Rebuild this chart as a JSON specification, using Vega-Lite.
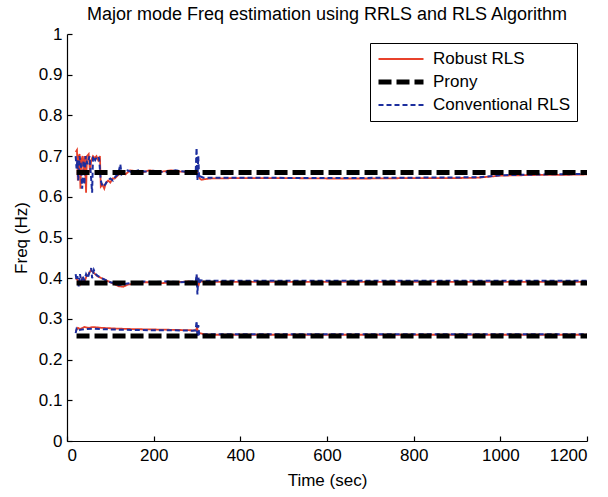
{
  "$schema": "https://vega.github.io/schema/vega-lite/v6.json",
  "autosize": "none",
  "width": 520,
  "height": 407,
  "padding": {"left": 67, "top": 34, "right": 21, "bottom": 56},
  "background": "white",
  "config": {
    "font": "Liberation Sans",
    "view": {"stroke": null},
    "axis": {"grid": false, "domainColor": "#000", "tickColor": "#000", "labelColor": "#000", "titleColor": "#000", "labelFont": "Liberation Sans", "titleFont": "Liberation Sans", "labelFontSize": 17, "titleFontSize": 17, "titleFontWeight": "normal", "tickSize": -5, "domainWidth": 1.2, "tickWidth": 1.2}
  },
  "title": {"text": "Major mode Freq estimation using  RRLS and RLS Algorithm", "fontSize": 18, "fontWeight": "normal", "font": "Liberation Sans", "color": "#000", "anchor": "middle", "frame": "group", "offset": 1},
  "datasets": {
    "d": [
      {"s":"Robust RLS","m":1,"t":20,"f":0.71},{"s":"Robust RLS","m":1,"t":23,"f":0.715},{"s":"Robust RLS","m":1,"t":25,"f":0.64},{"s":"Robust RLS","m":1,"t":27,"f":0.70},{"s":"Robust RLS","m":1,"t":29,"f":0.705},{"s":"Robust RLS","m":1,"t":31,"f":0.62},{"s":"Robust RLS","m":1,"t":33,"f":0.69},{"s":"Robust RLS","m":1,"t":36,"f":0.70},{"s":"Robust RLS","m":1,"t":38,"f":0.66},{"s":"Robust RLS","m":1,"t":41,"f":0.70},{"s":"Robust RLS","m":1,"t":44,"f":0.61},{"s":"Robust RLS","m":1,"t":46,"f":0.70},{"s":"Robust RLS","m":1,"t":50,"f":0.705},{"s":"Robust RLS","m":1,"t":53,"f":0.66},{"s":"Robust RLS","m":1,"t":56,"f":0.69},{"s":"Robust RLS","m":1,"t":60,"f":0.70},{"s":"Robust RLS","m":1,"t":64,"f":0.695},{"s":"Robust RLS","m":1,"t":68,"f":0.70},{"s":"Robust RLS","m":1,"t":72,"f":0.69},{"s":"Robust RLS","m":1,"t":76,"f":0.70},{"s":"Robust RLS","m":1,"t":78,"f":0.625},{"s":"Robust RLS","m":1,"t":82,"f":0.63},{"s":"Robust RLS","m":1,"t":86,"f":0.62},{"s":"Robust RLS","m":1,"t":90,"f":0.635},{"s":"Robust RLS","m":1,"t":95,"f":0.64},{"s":"Robust RLS","m":1,"t":100,"f":0.635},{"s":"Robust RLS","m":1,"t":105,"f":0.645},{"s":"Robust RLS","m":1,"t":110,"f":0.645},{"s":"Robust RLS","m":1,"t":115,"f":0.65},{"s":"Robust RLS","m":1,"t":120,"f":0.655},{"s":"Robust RLS","m":1,"t":128,"f":0.66},{"s":"Robust RLS","m":1,"t":135,"f":0.655},{"s":"Robust RLS","m":1,"t":145,"f":0.665},{"s":"Robust RLS","m":1,"t":160,"f":0.663},{"s":"Robust RLS","m":1,"t":175,"f":0.66},{"s":"Robust RLS","m":1,"t":190,"f":0.665},{"s":"Robust RLS","m":1,"t":205,"f":0.663},{"s":"Robust RLS","m":1,"t":220,"f":0.662},{"s":"Robust RLS","m":1,"t":240,"f":0.665},{"s":"Robust RLS","m":1,"t":260,"f":0.662},{"s":"Robust RLS","m":1,"t":280,"f":0.661},{"s":"Robust RLS","m":1,"t":296,"f":0.66},{"s":"Robust RLS","m":1,"t":300,"f":0.665},{"s":"Robust RLS","m":1,"t":303,"f":0.655},{"s":"Robust RLS","m":1,"t":306,"f":0.645},{"s":"Robust RLS","m":1,"t":310,"f":0.642},{"s":"Robust RLS","m":1,"t":330,"f":0.645},{"s":"Robust RLS","m":1,"t":400,"f":0.646},{"s":"Robust RLS","m":1,"t":500,"f":0.646},{"s":"Robust RLS","m":1,"t":600,"f":0.645},{"s":"Robust RLS","m":1,"t":700,"f":0.645},{"s":"Robust RLS","m":1,"t":800,"f":0.646},{"s":"Robust RLS","m":1,"t":900,"f":0.646},{"s":"Robust RLS","m":1,"t":950,"f":0.647},{"s":"Robust RLS","m":1,"t":980,"f":0.65},{"s":"Robust RLS","m":1,"t":1000,"f":0.652},{"s":"Robust RLS","m":1,"t":1050,"f":0.653},{"s":"Robust RLS","m":1,"t":1100,"f":0.654},{"s":"Robust RLS","m":1,"t":1150,"f":0.654},{"s":"Robust RLS","m":1,"t":1200,"f":0.655},

      {"s":"Robust RLS","m":2,"t":20,"f":0.40},{"s":"Robust RLS","m":2,"t":25,"f":0.395},{"s":"Robust RLS","m":2,"t":30,"f":0.385},{"s":"Robust RLS","m":2,"t":35,"f":0.40},{"s":"Robust RLS","m":2,"t":40,"f":0.39},{"s":"Robust RLS","m":2,"t":45,"f":0.405},{"s":"Robust RLS","m":2,"t":50,"f":0.41},{"s":"Robust RLS","m":2,"t":55,"f":0.42},{"s":"Robust RLS","m":2,"t":60,"f":0.415},{"s":"Robust RLS","m":2,"t":65,"f":0.41},{"s":"Robust RLS","m":2,"t":70,"f":0.405},{"s":"Robust RLS","m":2,"t":80,"f":0.40},{"s":"Robust RLS","m":2,"t":90,"f":0.395},{"s":"Robust RLS","m":2,"t":100,"f":0.39},{"s":"Robust RLS","m":2,"t":110,"f":0.385},{"s":"Robust RLS","m":2,"t":120,"f":0.38},{"s":"Robust RLS","m":2,"t":130,"f":0.379},{"s":"Robust RLS","m":2,"t":140,"f":0.384},{"s":"Robust RLS","m":2,"t":160,"f":0.388},{"s":"Robust RLS","m":2,"t":180,"f":0.39},{"s":"Robust RLS","m":2,"t":200,"f":0.39},{"s":"Robust RLS","m":2,"t":220,"f":0.388},{"s":"Robust RLS","m":2,"t":250,"f":0.39},{"s":"Robust RLS","m":2,"t":280,"f":0.392},{"s":"Robust RLS","m":2,"t":296,"f":0.39},{"s":"Robust RLS","m":2,"t":300,"f":0.40},{"s":"Robust RLS","m":2,"t":303,"f":0.38},{"s":"Robust RLS","m":2,"t":306,"f":0.392},{"s":"Robust RLS","m":2,"t":320,"f":0.391},{"s":"Robust RLS","m":2,"t":600,"f":0.391},{"s":"Robust RLS","m":2,"t":900,"f":0.391},{"s":"Robust RLS","m":2,"t":1200,"f":0.391},

      {"s":"Robust RLS","m":3,"t":20,"f":0.27},{"s":"Robust RLS","m":3,"t":25,"f":0.278},{"s":"Robust RLS","m":3,"t":30,"f":0.275},{"s":"Robust RLS","m":3,"t":40,"f":0.28},{"s":"Robust RLS","m":3,"t":50,"f":0.278},{"s":"Robust RLS","m":3,"t":60,"f":0.28},{"s":"Robust RLS","m":3,"t":70,"f":0.279},{"s":"Robust RLS","m":3,"t":80,"f":0.278},{"s":"Robust RLS","m":3,"t":100,"f":0.277},{"s":"Robust RLS","m":3,"t":120,"f":0.276},{"s":"Robust RLS","m":3,"t":150,"f":0.275},{"s":"Robust RLS","m":3,"t":200,"f":0.274},{"s":"Robust RLS","m":3,"t":250,"f":0.273},{"s":"Robust RLS","m":3,"t":290,"f":0.272},{"s":"Robust RLS","m":3,"t":298,"f":0.272},{"s":"Robust RLS","m":3,"t":300,"f":0.28},{"s":"Robust RLS","m":3,"t":303,"f":0.262},{"s":"Robust RLS","m":3,"t":306,"f":0.265},{"s":"Robust RLS","m":3,"t":320,"f":0.261},{"s":"Robust RLS","m":3,"t":600,"f":0.261},{"s":"Robust RLS","m":3,"t":900,"f":0.261},{"s":"Robust RLS","m":3,"t":1200,"f":0.261},

      {"s":"Conventional RLS","m":1,"t":20,"f":0.70},{"s":"Conventional RLS","m":1,"t":22,"f":0.67},{"s":"Conventional RLS","m":1,"t":24,"f":0.69},{"s":"Conventional RLS","m":1,"t":26,"f":0.64},{"s":"Conventional RLS","m":1,"t":29,"f":0.70},{"s":"Conventional RLS","m":1,"t":32,"f":0.68},{"s":"Conventional RLS","m":1,"t":35,"f":0.62},{"s":"Conventional RLS","m":1,"t":38,"f":0.69},{"s":"Conventional RLS","m":1,"t":40,"f":0.63},{"s":"Conventional RLS","m":1,"t":43,"f":0.70},{"s":"Conventional RLS","m":1,"t":47,"f":0.68},{"s":"Conventional RLS","m":1,"t":52,"f":0.70},{"s":"Conventional RLS","m":1,"t":56,"f":0.64},{"s":"Conventional RLS","m":1,"t":58,"f":0.61},{"s":"Conventional RLS","m":1,"t":60,"f":0.70},{"s":"Conventional RLS","m":1,"t":65,"f":0.69},{"s":"Conventional RLS","m":1,"t":70,"f":0.70},{"s":"Conventional RLS","m":1,"t":74,"f":0.695},{"s":"Conventional RLS","m":1,"t":78,"f":0.64},{"s":"Conventional RLS","m":1,"t":82,"f":0.625},{"s":"Conventional RLS","m":1,"t":88,"f":0.63},{"s":"Conventional RLS","m":1,"t":94,"f":0.64},{"s":"Conventional RLS","m":1,"t":100,"f":0.645},{"s":"Conventional RLS","m":1,"t":106,"f":0.64},{"s":"Conventional RLS","m":1,"t":112,"f":0.65},{"s":"Conventional RLS","m":1,"t":118,"f":0.655},{"s":"Conventional RLS","m":1,"t":123,"f":0.68},{"s":"Conventional RLS","m":1,"t":126,"f":0.655},{"s":"Conventional RLS","m":1,"t":132,"f":0.66},{"s":"Conventional RLS","m":1,"t":140,"f":0.665},{"s":"Conventional RLS","m":1,"t":150,"f":0.66},{"s":"Conventional RLS","m":1,"t":165,"f":0.665},{"s":"Conventional RLS","m":1,"t":180,"f":0.662},{"s":"Conventional RLS","m":1,"t":200,"f":0.664},{"s":"Conventional RLS","m":1,"t":225,"f":0.66},{"s":"Conventional RLS","m":1,"t":250,"f":0.665},{"s":"Conventional RLS","m":1,"t":270,"f":0.662},{"s":"Conventional RLS","m":1,"t":290,"f":0.66},{"s":"Conventional RLS","m":1,"t":297,"f":0.66},{"s":"Conventional RLS","m":1,"t":299,"f":0.72},{"s":"Conventional RLS","m":1,"t":301,"f":0.64},{"s":"Conventional RLS","m":1,"t":303,"f":0.70},{"s":"Conventional RLS","m":1,"t":305,"f":0.645},{"s":"Conventional RLS","m":1,"t":308,"f":0.65},{"s":"Conventional RLS","m":1,"t":315,"f":0.647},{"s":"Conventional RLS","m":1,"t":400,"f":0.647},{"s":"Conventional RLS","m":1,"t":600,"f":0.646},{"s":"Conventional RLS","m":1,"t":800,"f":0.647},{"s":"Conventional RLS","m":1,"t":950,"f":0.648},{"s":"Conventional RLS","m":1,"t":1000,"f":0.653},{"s":"Conventional RLS","m":1,"t":1100,"f":0.655},{"s":"Conventional RLS","m":1,"t":1200,"f":0.656},

      {"s":"Conventional RLS","m":2,"t":20,"f":0.41},{"s":"Conventional RLS","m":2,"t":22,"f":0.395},{"s":"Conventional RLS","m":2,"t":24,"f":0.405},{"s":"Conventional RLS","m":2,"t":27,"f":0.38},{"s":"Conventional RLS","m":2,"t":30,"f":0.41},{"s":"Conventional RLS","m":2,"t":33,"f":0.39},{"s":"Conventional RLS","m":2,"t":36,"f":0.405},{"s":"Conventional RLS","m":2,"t":40,"f":0.395},{"s":"Conventional RLS","m":2,"t":44,"f":0.41},{"s":"Conventional RLS","m":2,"t":48,"f":0.40},{"s":"Conventional RLS","m":2,"t":52,"f":0.415},{"s":"Conventional RLS","m":2,"t":56,"f":0.425},{"s":"Conventional RLS","m":2,"t":58,"f":0.40},{"s":"Conventional RLS","m":2,"t":62,"f":0.42},{"s":"Conventional RLS","m":2,"t":66,"f":0.41},{"s":"Conventional RLS","m":2,"t":72,"f":0.405},{"s":"Conventional RLS","m":2,"t":80,"f":0.40},{"s":"Conventional RLS","m":2,"t":90,"f":0.395},{"s":"Conventional RLS","m":2,"t":100,"f":0.39},{"s":"Conventional RLS","m":2,"t":110,"f":0.388},{"s":"Conventional RLS","m":2,"t":120,"f":0.383},{"s":"Conventional RLS","m":2,"t":130,"f":0.385},{"s":"Conventional RLS","m":2,"t":140,"f":0.387},{"s":"Conventional RLS","m":2,"t":160,"f":0.39},{"s":"Conventional RLS","m":2,"t":180,"f":0.392},{"s":"Conventional RLS","m":2,"t":200,"f":0.39},{"s":"Conventional RLS","m":2,"t":230,"f":0.392},{"s":"Conventional RLS","m":2,"t":260,"f":0.39},{"s":"Conventional RLS","m":2,"t":290,"f":0.392},{"s":"Conventional RLS","m":2,"t":297,"f":0.39},{"s":"Conventional RLS","m":2,"t":299,"f":0.41},{"s":"Conventional RLS","m":2,"t":301,"f":0.36},{"s":"Conventional RLS","m":2,"t":303,"f":0.405},{"s":"Conventional RLS","m":2,"t":305,"f":0.385},{"s":"Conventional RLS","m":2,"t":308,"f":0.395},{"s":"Conventional RLS","m":2,"t":320,"f":0.394},{"s":"Conventional RLS","m":2,"t":600,"f":0.394},{"s":"Conventional RLS","m":2,"t":900,"f":0.394},{"s":"Conventional RLS","m":2,"t":1200,"f":0.394},

      {"s":"Conventional RLS","m":3,"t":20,"f":0.265},{"s":"Conventional RLS","m":3,"t":22,"f":0.275},{"s":"Conventional RLS","m":3,"t":25,"f":0.27},{"s":"Conventional RLS","m":3,"t":30,"f":0.273},{"s":"Conventional RLS","m":3,"t":40,"f":0.275},{"s":"Conventional RLS","m":3,"t":60,"f":0.276},{"s":"Conventional RLS","m":3,"t":100,"f":0.274},{"s":"Conventional RLS","m":3,"t":150,"f":0.273},{"s":"Conventional RLS","m":3,"t":200,"f":0.272},{"s":"Conventional RLS","m":3,"t":250,"f":0.272},{"s":"Conventional RLS","m":3,"t":290,"f":0.271},{"s":"Conventional RLS","m":3,"t":297,"f":0.272},{"s":"Conventional RLS","m":3,"t":299,"f":0.295},{"s":"Conventional RLS","m":3,"t":301,"f":0.255},{"s":"Conventional RLS","m":3,"t":303,"f":0.285},{"s":"Conventional RLS","m":3,"t":305,"f":0.262},{"s":"Conventional RLS","m":3,"t":310,"f":0.26},{"s":"Conventional RLS","m":3,"t":320,"f":0.262},{"s":"Conventional RLS","m":3,"t":600,"f":0.262},{"s":"Conventional RLS","m":3,"t":900,"f":0.262},{"s":"Conventional RLS","m":3,"t":1200,"f":0.262},

      {"s":"Prony","m":1,"t":22,"f":0.66},{"s":"Prony","m":1,"t":1200,"f":0.66},
      {"s":"Prony","m":2,"t":22,"f":0.388},{"s":"Prony","m":2,"t":1200,"f":0.388},
      {"s":"Prony","m":3,"t":22,"f":0.258},{"s":"Prony","m":3,"t":1200,"f":0.258}
    ]
  },
  "data": {"name": "d"},
  "encoding": {
    "x": {"field": "t", "type": "quantitative", "scale": {"domain": [0, 1200], "nice": false}, "axis": {"values": [0,200,400,600,800,1000,1200], "format": "d", "title": "Time (sec)", "labelPadding": 11, "titlePadding": 9}},
    "y": {"field": "f", "type": "quantitative", "scale": {"domain": [0, 1], "nice": false}, "axis": {"values": [0,0.1,0.2,0.3,0.4,0.5,0.6,0.7,0.8,0.9,1], "format": "~g", "title": "Freq (Hz)", "labelPadding": 10, "titlePadding": 8}},
    "detail": {"field": "m"},
    "color": {"field": "s", "type": "nominal", "scale": {"domain": ["Robust RLS", "Prony", "Conventional RLS"], "range": ["#e8412b", "#000000", "#1c2e9e"]},
      "legend": {"title": null, "orient": "none", "legendX": 303, "legendY": 9, "symbolType": "stroke", "symbolSize": 2025, "labelFontSize": 17, "labelFont": "Liberation Sans", "labelColor": "#000", "strokeColor": "#000", "fillColor": "#fff", "padding": 6, "rowPadding": 3, "clipHeight": 20, "labelOffset": 7}},
    "strokeDash": {"field": "s", "type": "nominal", "scale": {"domain": ["Robust RLS", "Prony", "Conventional RLS"], "range": [[1, 0], [13, 5], [5, 3]]}},
    "strokeWidth": {"field": "s", "type": "nominal", "scale": {"type": "ordinal", "domain": ["Robust RLS", "Prony", "Conventional RLS"], "range": [1.8, 5, 2]}}
  },
  "layer": [
    {"transform": [{"filter": "datum.s == 'Robust RLS'"}], "mark": {"type": "line", "clip": true}},
    {"transform": [{"filter": "datum.s == 'Conventional RLS'"}], "mark": {"type": "line", "clip": true}},
    {"transform": [{"filter": "datum.s == 'Prony'"}], "mark": {"type": "line", "clip": true}}
  ]
}
